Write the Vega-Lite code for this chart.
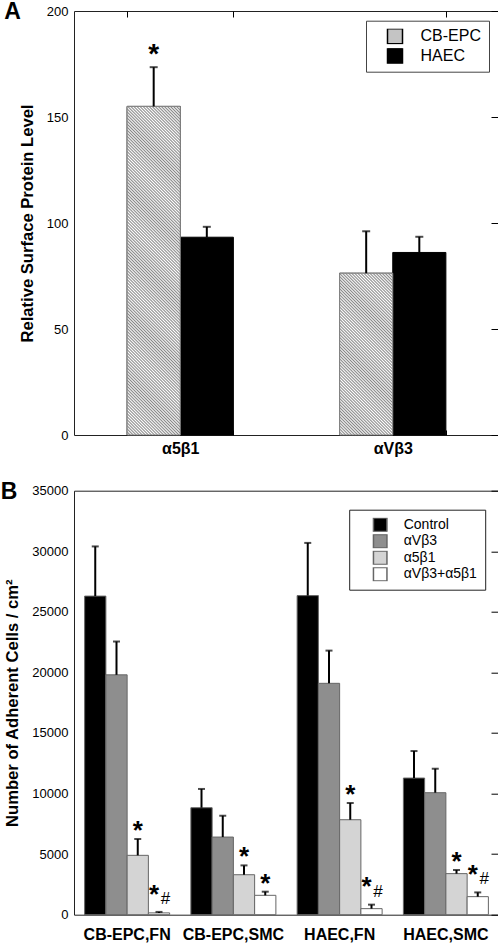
{
"$schema": "https://vega.github.io/schema/vega-lite/v6.json",
"background": "white",
"padding": {"left": 0, "top": 0, "right": 0, "bottom": 0},
"params": [{"name": "hs", "value": [
{"offset":0,"color":"#888"},{"offset":0.004,"color":"#fff"},{"offset":0.008,"color":"#888"},{"offset":0.012,"color":"#fff"},{"offset":0.016,"color":"#888"},{"offset":0.02,"color":"#fff"},{"offset":0.024,"color":"#888"},{"offset":0.028,"color":"#fff"},{"offset":0.032,"color":"#888"},{"offset":0.036,"color":"#fff"},
{"offset":0.04,"color":"#888"},{"offset":0.044,"color":"#fff"},{"offset":0.048,"color":"#888"},{"offset":0.052,"color":"#fff"},{"offset":0.056,"color":"#888"},{"offset":0.06,"color":"#fff"},{"offset":0.064,"color":"#888"},{"offset":0.068,"color":"#fff"},{"offset":0.072,"color":"#888"},{"offset":0.076,"color":"#fff"},
{"offset":0.08,"color":"#888"},{"offset":0.084,"color":"#fff"},{"offset":0.088,"color":"#888"},{"offset":0.092,"color":"#fff"},{"offset":0.096,"color":"#888"},{"offset":0.1,"color":"#fff"},{"offset":0.104,"color":"#888"},{"offset":0.108,"color":"#fff"},{"offset":0.112,"color":"#888"},{"offset":0.116,"color":"#fff"},
{"offset":0.12,"color":"#888"},{"offset":0.124,"color":"#fff"},{"offset":0.128,"color":"#888"},{"offset":0.132,"color":"#fff"},{"offset":0.136,"color":"#888"},{"offset":0.14,"color":"#fff"},{"offset":0.144,"color":"#888"},{"offset":0.148,"color":"#fff"},{"offset":0.152,"color":"#888"},{"offset":0.156,"color":"#fff"},
{"offset":0.16,"color":"#888"},{"offset":0.164,"color":"#fff"},{"offset":0.168,"color":"#888"},{"offset":0.172,"color":"#fff"},{"offset":0.176,"color":"#888"},{"offset":0.18,"color":"#fff"},{"offset":0.184,"color":"#888"},{"offset":0.188,"color":"#fff"},{"offset":0.192,"color":"#888"},{"offset":0.196,"color":"#fff"},
{"offset":0.2,"color":"#888"},{"offset":0.204,"color":"#fff"},{"offset":0.208,"color":"#888"},{"offset":0.212,"color":"#fff"},{"offset":0.216,"color":"#888"},{"offset":0.22,"color":"#fff"},{"offset":0.224,"color":"#888"},{"offset":0.228,"color":"#fff"},{"offset":0.232,"color":"#888"},{"offset":0.236,"color":"#fff"},
{"offset":0.24,"color":"#888"},{"offset":0.244,"color":"#fff"},{"offset":0.248,"color":"#888"},{"offset":0.252,"color":"#fff"},{"offset":0.256,"color":"#888"},{"offset":0.26,"color":"#fff"},{"offset":0.264,"color":"#888"},{"offset":0.268,"color":"#fff"},{"offset":0.272,"color":"#888"},{"offset":0.276,"color":"#fff"},
{"offset":0.28,"color":"#888"},{"offset":0.284,"color":"#fff"},{"offset":0.288,"color":"#888"},{"offset":0.292,"color":"#fff"},{"offset":0.296,"color":"#888"},{"offset":0.3,"color":"#fff"},{"offset":0.304,"color":"#888"},{"offset":0.308,"color":"#fff"},{"offset":0.312,"color":"#888"},{"offset":0.316,"color":"#fff"},
{"offset":0.32,"color":"#888"},{"offset":0.324,"color":"#fff"},{"offset":0.328,"color":"#888"},{"offset":0.332,"color":"#fff"},{"offset":0.336,"color":"#888"},{"offset":0.34,"color":"#fff"},{"offset":0.344,"color":"#888"},{"offset":0.348,"color":"#fff"},{"offset":0.352,"color":"#888"},{"offset":0.356,"color":"#fff"},
{"offset":0.36,"color":"#888"},{"offset":0.364,"color":"#fff"},{"offset":0.368,"color":"#888"},{"offset":0.372,"color":"#fff"},{"offset":0.376,"color":"#888"},{"offset":0.38,"color":"#fff"},{"offset":0.384,"color":"#888"},{"offset":0.388,"color":"#fff"},{"offset":0.392,"color":"#888"},{"offset":0.396,"color":"#fff"},
{"offset":0.4,"color":"#888"},{"offset":0.404,"color":"#fff"},{"offset":0.408,"color":"#888"},{"offset":0.412,"color":"#fff"},{"offset":0.416,"color":"#888"},{"offset":0.42,"color":"#fff"},{"offset":0.424,"color":"#888"},{"offset":0.428,"color":"#fff"},{"offset":0.432,"color":"#888"},{"offset":0.436,"color":"#fff"},
{"offset":0.44,"color":"#888"},{"offset":0.444,"color":"#fff"},{"offset":0.448,"color":"#888"},{"offset":0.452,"color":"#fff"},{"offset":0.456,"color":"#888"},{"offset":0.46,"color":"#fff"},{"offset":0.464,"color":"#888"},{"offset":0.468,"color":"#fff"},{"offset":0.472,"color":"#888"},{"offset":0.476,"color":"#fff"},
{"offset":0.48,"color":"#888"},{"offset":0.484,"color":"#fff"},{"offset":0.488,"color":"#888"},{"offset":0.492,"color":"#fff"},{"offset":0.496,"color":"#888"},{"offset":0.5,"color":"#fff"},{"offset":0.504,"color":"#888"},{"offset":0.508,"color":"#fff"},{"offset":0.512,"color":"#888"},{"offset":0.516,"color":"#fff"},
{"offset":0.52,"color":"#888"},{"offset":0.524,"color":"#fff"},{"offset":0.528,"color":"#888"},{"offset":0.532,"color":"#fff"},{"offset":0.536,"color":"#888"},{"offset":0.54,"color":"#fff"},{"offset":0.544,"color":"#888"},{"offset":0.548,"color":"#fff"},{"offset":0.552,"color":"#888"},{"offset":0.556,"color":"#fff"},
{"offset":0.56,"color":"#888"},{"offset":0.564,"color":"#fff"},{"offset":0.568,"color":"#888"},{"offset":0.572,"color":"#fff"},{"offset":0.576,"color":"#888"},{"offset":0.58,"color":"#fff"},{"offset":0.584,"color":"#888"},{"offset":0.588,"color":"#fff"},{"offset":0.592,"color":"#888"},{"offset":0.596,"color":"#fff"},
{"offset":0.6,"color":"#888"},{"offset":0.604,"color":"#fff"},{"offset":0.608,"color":"#888"},{"offset":0.612,"color":"#fff"},{"offset":0.616,"color":"#888"},{"offset":0.62,"color":"#fff"},{"offset":0.624,"color":"#888"},{"offset":0.628,"color":"#fff"},{"offset":0.632,"color":"#888"},{"offset":0.636,"color":"#fff"},
{"offset":0.64,"color":"#888"},{"offset":0.644,"color":"#fff"},{"offset":0.648,"color":"#888"},{"offset":0.652,"color":"#fff"},{"offset":0.656,"color":"#888"},{"offset":0.66,"color":"#fff"},{"offset":0.664,"color":"#888"},{"offset":0.668,"color":"#fff"},{"offset":0.672,"color":"#888"},{"offset":0.676,"color":"#fff"},
{"offset":0.68,"color":"#888"},{"offset":0.684,"color":"#fff"},{"offset":0.688,"color":"#888"},{"offset":0.692,"color":"#fff"},{"offset":0.696,"color":"#888"},{"offset":0.7,"color":"#fff"},{"offset":0.704,"color":"#888"},{"offset":0.708,"color":"#fff"},{"offset":0.712,"color":"#888"},{"offset":0.716,"color":"#fff"},
{"offset":0.72,"color":"#888"},{"offset":0.724,"color":"#fff"},{"offset":0.728,"color":"#888"},{"offset":0.732,"color":"#fff"},{"offset":0.736,"color":"#888"},{"offset":0.74,"color":"#fff"},{"offset":0.744,"color":"#888"},{"offset":0.748,"color":"#fff"},{"offset":0.752,"color":"#888"},{"offset":0.756,"color":"#fff"},
{"offset":0.76,"color":"#888"},{"offset":0.764,"color":"#fff"},{"offset":0.768,"color":"#888"},{"offset":0.772,"color":"#fff"},{"offset":0.776,"color":"#888"},{"offset":0.78,"color":"#fff"},{"offset":0.784,"color":"#888"},{"offset":0.788,"color":"#fff"},{"offset":0.792,"color":"#888"},{"offset":0.796,"color":"#fff"},
{"offset":0.8,"color":"#888"},{"offset":0.804,"color":"#fff"},{"offset":0.808,"color":"#888"},{"offset":0.812,"color":"#fff"},{"offset":0.816,"color":"#888"},{"offset":0.82,"color":"#fff"},{"offset":0.824,"color":"#888"},{"offset":0.828,"color":"#fff"},{"offset":0.832,"color":"#888"},{"offset":0.836,"color":"#fff"},
{"offset":0.84,"color":"#888"},{"offset":0.844,"color":"#fff"},{"offset":0.848,"color":"#888"},{"offset":0.852,"color":"#fff"},{"offset":0.856,"color":"#888"},{"offset":0.86,"color":"#fff"},{"offset":0.864,"color":"#888"},{"offset":0.868,"color":"#fff"},{"offset":0.872,"color":"#888"},{"offset":0.876,"color":"#fff"},
{"offset":0.88,"color":"#888"},{"offset":0.884,"color":"#fff"},{"offset":0.888,"color":"#888"},{"offset":0.892,"color":"#fff"},{"offset":0.896,"color":"#888"},{"offset":0.9,"color":"#fff"},{"offset":0.904,"color":"#888"},{"offset":0.908,"color":"#fff"},{"offset":0.912,"color":"#888"},{"offset":0.916,"color":"#fff"},
{"offset":0.92,"color":"#888"},{"offset":0.924,"color":"#fff"},{"offset":0.928,"color":"#888"},{"offset":0.932,"color":"#fff"},{"offset":0.936,"color":"#888"},{"offset":0.94,"color":"#fff"},{"offset":0.944,"color":"#888"},{"offset":0.948,"color":"#fff"},{"offset":0.952,"color":"#888"},{"offset":0.956,"color":"#fff"},
{"offset":0.96,"color":"#888"},{"offset":0.964,"color":"#fff"},{"offset":0.968,"color":"#888"},{"offset":0.972,"color":"#fff"},{"offset":0.976,"color":"#888"},{"offset":0.98,"color":"#fff"},{"offset":0.984,"color":"#888"},{"offset":0.988,"color":"#fff"},{"offset":0.992,"color":"#888"},{"offset":0.996,"color":"#fff"},
{"offset":1,"color":"#888"}
]}],
"config": {
  "font": "Liberation Sans",
  "view": {"stroke": "#222", "strokeWidth": 1},
  "axis": {"labelColor": "#000", "titleColor": "#000", "domain": false, "grid": false, "tickColor": "#000", "labelFlush": false, "labelOverlap": false},
  "legend": {"labelColor": "#000"},
  "title": {"color": "#000"}
},
"spacing": 22.7,
"resolve": {"scale": {"color": "independent", "xOffset": "independent"}, "legend": {"color": "independent"}},
"vconcat": [
{
  "width": 425, "height": 424,
  "title": {"text": "A", "anchor": "start", "frame": "bounds", "fontSize": 23, "fontWeight": "bold", "baseline": "alphabetic", "offset": -37.3, "dx": -15},
  "data": {"values": [
    {"integrin": "α5β1", "cell": "CB-EPC", "value": 155, "upper": 173.5, "star": "*"},
    {"integrin": "α5β1", "cell": "HAEC", "value": 93.3, "upper": 98.2, "star": ""},
    {"integrin": "αVβ3", "cell": "CB-EPC", "value": 76.3, "upper": 96.1, "star": ""},
    {"integrin": "αVβ3", "cell": "HAEC", "value": 86.1, "upper": 93.5, "star": ""}
  ]},
  "layer": [
    {
      "mark": {"type": "bar", "stroke": "#000", "strokeWidth": 1},
      "encoding": {
        "x": {"field": "integrin", "type": "nominal", "sort": ["α5β1", "αVβ3"], "scale": {"paddingInner": 0.5, "paddingOuter": 0.25},
              "axis": {"orient": "bottom", "title": null, "labelAngle": 0, "labelFontSize": 16, "labelFontWeight": "bold", "ticks": true, "tickBand": "extent", "tickSize": -5, "labelPadding": 10}},
        "xOffset": {"field": "cell", "type": "nominal", "sort": ["CB-EPC", "HAEC"], "scale": {"paddingInner": 0, "paddingOuter": 0}},
        "y": {"field": "value", "type": "quantitative", "scale": {"domain": [0, 200], "nice": false},
              "axis": {"orient": "left", "title": "Relative Surface Protein Level", "titleFontSize": 16.6, "titleFontWeight": "bold", "titlePadding": 11, "values": [0, 50, 100, 150, 200], "ticks": false, "labelFontSize": 13, "labelPadding": 6}},
        "color": {"field": "cell", "type": "nominal", "scale": {"domain": ["CB-EPC", "HAEC"], "range": ["#c4c4c4", "#000"]},
                  "legend": {"orient": "none", "legendX": 292, "legendY": 9.7, "title": null, "strokeColor": "#444", "padding": 8, "symbolType": "square", "symbolSize": 225, "symbolOffset": 12.5, "labelOffset": 17, "labelFontSize": 16, "rowPadding": 2.5, "clipHeight": 15,
                    "encode": {"symbols": {"update": {
                      "fill": {"signal": "datum.value == 'CB-EPC' ? {gradient: 'linear', x1: 0, y1: 1, x2: 12.7, y2: -11.7, stops: hs} : '#000'"},
                      "stroke": {"signal": "datum.value == 'CB-EPC' ? '#888' : '#000'"},
                      "strokeWidth": {"value": 1},
                      "opacity": {"value": 1}}}}}}
      }
    },
    {
      "transform": [{"filter": "datum.cell == 'CB-EPC'"}],
      "mark": {"type": "bar", "stroke": "#888", "strokeWidth": 1,
               "fill": {"expr": "{gradient: 'linear', x1: 0, y1: 1, x2: 381*53.125/(2822.27+pow(2.12*datum.value,2)), y2: 1-807.72*datum.value/(2822.27+pow(2.12*datum.value,2)), stops: hs}"}},
      "encoding": {
        "x": {"field": "integrin", "type": "nominal", "sort": ["α5β1", "αVβ3"], "axis": null},
        "xOffset": {"field": "cell", "type": "nominal", "sort": ["CB-EPC", "HAEC"]},
        "y": {"field": "value", "type": "quantitative", "axis": null}
      }
    },
    {
      "mark": {"type": "rule", "strokeWidth": 2, "color": "#000"},
      "encoding": {
        "x": {"field": "integrin", "type": "nominal", "sort": ["α5β1", "αVβ3"],
              "axis": {"orient": "top", "title": null, "labels": false, "ticks": true, "tickBand": "extent", "tickSize": -6}},
        "xOffset": {"field": "cell", "type": "nominal", "sort": ["CB-EPC", "HAEC"]},
        "y": {"field": "value", "type": "quantitative",
              "axis": {"orient": "right", "title": null, "labels": false, "ticks": true, "tickSize": -8, "values": [0, 50, 100, 150, 200]}},
        "y2": {"field": "upper"}
      }
    },
    {
      "mark": {"type": "tick", "thickness": 2, "size": 8, "color": "#000"},
      "encoding": {
        "x": {"field": "integrin", "type": "nominal", "sort": ["α5β1", "αVβ3"], "axis": null},
        "xOffset": {"field": "cell", "type": "nominal", "sort": ["CB-EPC", "HAEC"]},
        "y": {"field": "upper", "type": "quantitative", "axis": null}
      }
    },
    {
      "transform": [{"filter": "datum.star != ''"}],
      "mark": {"type": "text", "fontSize": 28, "fontWeight": "bold", "baseline": "alphabetic", "dy": -4, "color": "#000"},
      "encoding": {
        "x": {"field": "integrin", "type": "nominal", "sort": ["α5β1", "αVβ3"], "axis": null},
        "xOffset": {"field": "cell", "type": "nominal", "sort": ["CB-EPC", "HAEC"]},
        "y": {"field": "upper", "type": "quantitative", "axis": null},
        "text": {"field": "star"}
      }
    }
  ],
  "resolve": {"axis": {"x": "independent", "y": "independent"}}
},
{
  "width": 425, "height": 424,
  "title": {"text": "B", "anchor": "start", "frame": "bounds", "fontSize": 23, "fontWeight": "bold", "baseline": "alphabetic", "offset": -37.3, "dx": -4},
  "data": {"values": [
    {"group": "CB-EPC,FN", "treatment": "Control", "value": 26300, "upper": 30400, "star": "", "hash": ""},
    {"group": "CB-EPC,FN", "treatment": "αVβ3", "value": 19800, "upper": 22550, "star": "", "hash": ""},
    {"group": "CB-EPC,FN", "treatment": "α5β1", "value": 4900, "upper": 6250, "star": "*", "hash": ""},
    {"group": "CB-EPC,FN", "treatment": "αVβ3+α5β1", "value": 150, "upper": 230, "star": "*", "hash": "#"},
    {"group": "CB-EPC,SMC", "treatment": "Control", "value": 8830, "upper": 10380, "star": "", "hash": ""},
    {"group": "CB-EPC,SMC", "treatment": "αVβ3", "value": 6410, "upper": 8170, "star": "", "hash": ""},
    {"group": "CB-EPC,SMC", "treatment": "α5β1", "value": 3300, "upper": 4070, "star": "*", "hash": ""},
    {"group": "CB-EPC,SMC", "treatment": "αVβ3+α5β1", "value": 1600, "upper": 1900, "star": "*", "hash": ""},
    {"group": "HAEC,FN", "treatment": "Control", "value": 26340, "upper": 30690, "star": "", "hash": ""},
    {"group": "HAEC,FN", "treatment": "αVβ3", "value": 19100, "upper": 21800, "star": "", "hash": ""},
    {"group": "HAEC,FN", "treatment": "α5β1", "value": 7840, "upper": 9220, "star": "*", "hash": ""},
    {"group": "HAEC,FN", "treatment": "αVβ3+α5β1", "value": 500, "upper": 830, "star": "*", "hash": "#"},
    {"group": "HAEC,SMC", "treatment": "Control", "value": 11280, "upper": 13510, "star": "", "hash": ""},
    {"group": "HAEC,SMC", "treatment": "αVβ3", "value": 10070, "upper": 12050, "star": "", "hash": ""},
    {"group": "HAEC,SMC", "treatment": "α5β1", "value": 3390, "upper": 3690, "star": "*", "hash": ""},
    {"group": "HAEC,SMC", "treatment": "αVβ3+α5β1", "value": 1490, "upper": 1840, "star": "*", "hash": "#"}
  ]},
  "layer": [
    {
      "mark": {"type": "bar", "stroke": "#666", "strokeWidth": 1},
      "encoding": {
        "x": {"field": "group", "type": "nominal", "sort": ["CB-EPC,FN", "CB-EPC,SMC", "HAEC,FN", "HAEC,SMC"], "scale": {"paddingInner": 0.2, "paddingOuter": 0.1},
              "axis": {"orient": "bottom", "title": null, "labelAngle": 0, "labelFontSize": 16, "labelFontWeight": "bold", "ticks": false, "labelPadding": 12}},
        "xOffset": {"field": "treatment", "type": "nominal", "sort": ["Control", "αVβ3", "α5β1", "αVβ3+α5β1"], "scale": {"paddingInner": 0, "paddingOuter": 0}},
        "y": {"field": "value", "type": "quantitative", "scale": {"domain": [0, 35000], "nice": false},
              "axis": {"orient": "left", "title": "Number of Adherent Cells / cm²", "titleFontSize": 16.6, "titleFontWeight": "bold", "titlePadding": 11, "values": [0, 5000, 10000, 15000, 20000, 25000, 30000, 35000], "format": "d", "ticks": false, "labelFontSize": 13, "labelPadding": 6}},
        "color": {"field": "treatment", "type": "nominal", "scale": {"domain": ["Control", "αVβ3", "α5β1", "αVβ3+α5β1"], "range": ["#000", "#8e8e8e", "#d4d4d4", "#fff"]},
                  "legend": {"orient": "none", "legendX": 275.2, "legendY": 19, "title": null, "strokeColor": "#222", "padding": 8, "symbolType": "square", "symbolSize": 182, "symbolOffset": 15.5, "labelOffset": 16, "labelFontSize": 14, "rowPadding": 2.5, "clipHeight": 14,
                    "encode": {"symbols": {"update": {
                      "stroke": {"signal": "datum.value == 'Control' ? '#000' : '#777'"},
                      "strokeWidth": {"value": 1},
                      "opacity": {"value": 1}}}}}}
      }
    },
    {
      "mark": {"type": "rule", "strokeWidth": 2, "color": "#000"},
      "encoding": {
        "x": {"field": "group", "type": "nominal", "sort": ["CB-EPC,FN", "CB-EPC,SMC", "HAEC,FN", "HAEC,SMC"], "axis": null},
        "xOffset": {"field": "treatment", "type": "nominal", "sort": ["Control", "αVβ3", "α5β1", "αVβ3+α5β1"]},
        "y": {"field": "value", "type": "quantitative",
              "axis": {"orient": "right", "title": null, "labels": false, "ticks": true, "tickSize": -8, "values": [0, 5000, 10000, 15000, 20000, 25000, 30000, 35000]}},
        "y2": {"field": "upper"}
      }
    },
    {
      "mark": {"type": "tick", "thickness": 2, "size": 7, "color": "#000"},
      "encoding": {
        "x": {"field": "group", "type": "nominal", "sort": ["CB-EPC,FN", "CB-EPC,SMC", "HAEC,FN", "HAEC,SMC"], "axis": null},
        "xOffset": {"field": "treatment", "type": "nominal", "sort": ["Control", "αVβ3", "α5β1", "αVβ3+α5β1"]},
        "y": {"field": "upper", "type": "quantitative", "axis": null}
      }
    },
    {
      "transform": [{"filter": "datum.star != '' && datum.hash == ''"}],
      "mark": {"type": "text", "fontSize": 26, "fontWeight": "bold", "baseline": "alphabetic", "dy": 0, "color": "#000"},
      "encoding": {
        "x": {"field": "group", "type": "nominal", "sort": ["CB-EPC,FN", "CB-EPC,SMC", "HAEC,FN", "HAEC,SMC"], "axis": null},
        "xOffset": {"field": "treatment", "type": "nominal", "sort": ["Control", "αVβ3", "α5β1", "αVβ3+α5β1"]},
        "y": {"field": "upper", "type": "quantitative", "axis": null},
        "text": {"field": "star"}
      }
    },
    {
      "transform": [{"filter": "datum.hash != ''"}],
      "mark": {"type": "text", "fontSize": 26, "fontWeight": "bold", "baseline": "alphabetic", "dy": -9.4, "dx": -5, "color": "#000"},
      "encoding": {
        "x": {"field": "group", "type": "nominal", "sort": ["CB-EPC,FN", "CB-EPC,SMC", "HAEC,FN", "HAEC,SMC"], "axis": null},
        "xOffset": {"field": "treatment", "type": "nominal", "sort": ["Control", "αVβ3", "α5β1", "αVβ3+α5β1"]},
        "y": {"field": "upper", "type": "quantitative", "axis": null},
        "text": {"field": "star"}
      }
    },
    {
      "transform": [{"filter": "datum.hash != ''"}],
      "mark": {"type": "text", "fontSize": 17, "baseline": "alphabetic", "dy": -8, "dx": 6.5, "color": "#000"},
      "encoding": {
        "x": {"field": "group", "type": "nominal", "sort": ["CB-EPC,FN", "CB-EPC,SMC", "HAEC,FN", "HAEC,SMC"], "axis": null},
        "xOffset": {"field": "treatment", "type": "nominal", "sort": ["Control", "αVβ3", "α5β1", "αVβ3+α5β1"]},
        "y": {"field": "upper", "type": "quantitative", "axis": null},
        "text": {"field": "hash"}
      }
    }
  ],
  "resolve": {"axis": {"x": "independent", "y": "independent"}}
}
]
}
